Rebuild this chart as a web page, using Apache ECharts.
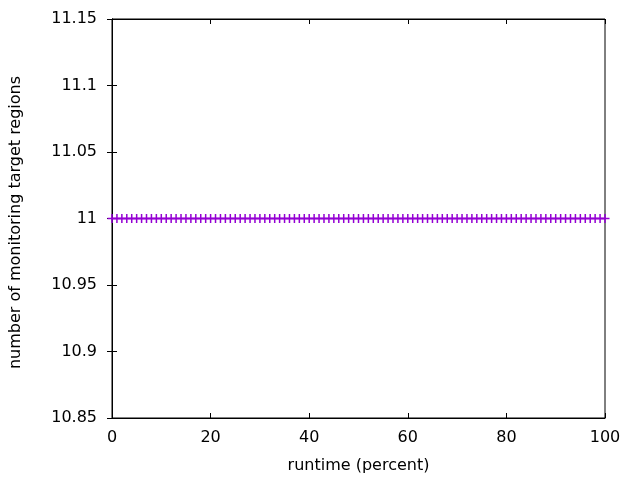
<!DOCTYPE html>
<html>
<head>
<meta charset="utf-8">
<script src="https://cdn.jsdelivr.net/npm/echarts@6/dist/echarts.min.js"></script>
<style>html,body{margin:0;padding:0;background:#fff;}#c{width:640px;height:480px;}</style>
</head>
<body>
<div id="c"></div>
<script>
var runtimePercent = [0,1,2,3,4,5,6,7,8,9,10,11,12,13,14,15,16,17,18,19,20,21,22,23,24,25,26,27,28,29,30,31,32,33,34,35,36,37,38,39,40,41,42,43,44,45,46,47,48,49,50,51,52,53,54,55,56,57,58,59,60,61,62,63,64,65,66,67,68,69,70,71,72,73,74,75,76,77,78,79,80,81,82,83,84,85,86,87,88,89,90,91,92,93,94,95,96,97,98,99,100];
var targetRegions = [11,11,11,11,11,11,11,11,11,11,11,11,11,11,11,11,11,11,11,11,11,11,11,11,11,11,11,11,11,11,11,11,11,11,11,11,11,11,11,11,11,11,11,11,11,11,11,11,11,11,11,11,11,11,11,11,11,11,11,11,11,11,11,11,11,11,11,11,11,11,11,11,11,11,11,11,11,11,11,11,11,11,11,11,11,11,11,11,11,11,11,11,11,11,11,11,11,11,11,11,11];
var xTickLabels = ['0','20','40','60','80','100'];
var yTickLabels = ['10.85','10.9','10.95','11','11.05','11.1','11.15'];

var font = '"DejaVu Sans"';
var data = runtimePercent.map(function(x, i){ return [x, targetRegions[i]]; });
function yFmt(v){ return (Math.round(v*100)/100).toString(); }
function xFmt(v){ return String(Math.round(v)); }

var chart = echarts.init(document.getElementById('c'));
var tickStyle = {show:true, inside:true, length:5, lineStyle:{color:'#000', width:1}};
chart.setOption({
  animation: false,
  backgroundColor: '#fff',
  grid: {left:112, right:35, top:19, bottom:62, show:true, borderColor:'#000', borderWidth:1, backgroundColor:'transparent'},
  xAxis: [
    {type:'value', min:0, max:100, interval:20, position:'bottom',
     name:'runtime (percent)', nameLocation:'middle', nameGap:40,
     nameTextStyle:{fontFamily:font, fontSize:16, color:'#000'},
     axisLine:{show:true, lineStyle:{color:'#000', width:1}},
     axisTick: tickStyle, splitLine:{show:false},
     axisLabel:{fontFamily:font, fontSize:16, color:'#000', margin:12, formatter:xFmt}},
    {type:'value', min:0, max:100, interval:20, position:'top',
     axisLine:{show:true, lineStyle:{color:'#000', width:1}},
     axisTick: tickStyle, splitLine:{show:false}, axisLabel:{show:false}}
  ],
  yAxis: [
    {type:'value', min:10.85, max:11.15, interval:0.05, position:'left',
     name:'number of monitoring target regions', nameLocation:'middle', nameGap:88,
     nameTextStyle:{fontFamily:font, fontSize:16, color:'#000', padding:[0,8,0,0]},
     axisLine:{show:true, lineStyle:{color:'#000', width:1}},
     axisTick: tickStyle, splitLine:{show:false},
     axisLabel:{fontFamily:font, fontSize:16, color:'#000', margin:15, formatter:yFmt}},
    {type:'value', min:10.85, max:11.15, interval:0.05, position:'right',
     axisLine:{show:true, lineStyle:{color:'#000', width:1}},
     axisTick: tickStyle, splitLine:{show:false}, axisLabel:{show:false}}
  ],
  series: [{
    type:'line', data:data, xAxisIndex:0, yAxisIndex:0,
    clip:false,
    lineStyle:{color:'#9400D3', width:1.5},
    itemStyle:{color:'#9400D3'},
    symbol:'path://M-0.75,-4.5 h1.5 v3.75 h3.75 v1.5 h-3.75 v3.75 h-1.5 v-3.75 h-3.75 v-1.5 h3.75 z',
    symbolSize:9,
    showAllSymbol:true
  }]
});
</script>
</body>
</html>
